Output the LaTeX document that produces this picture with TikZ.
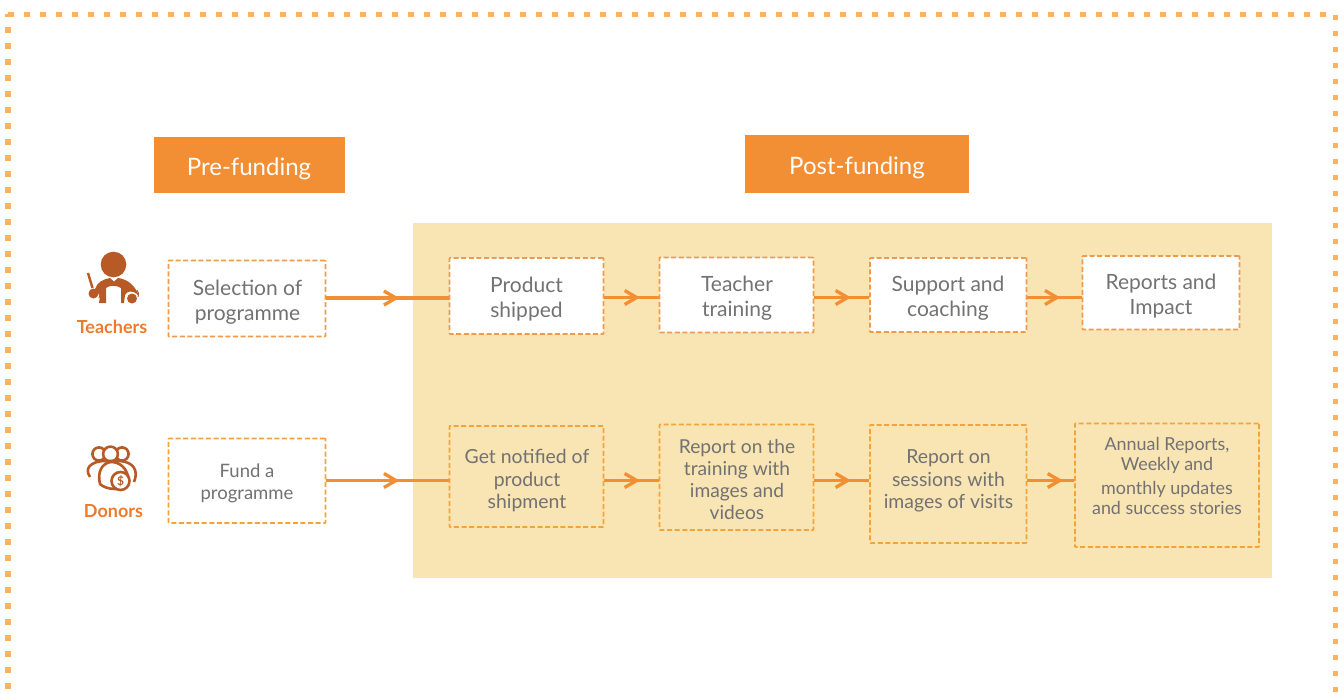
\documentclass[tikz,border=0pt]{standalone}
\usepackage{fontspec}
\setmainfont{Lato}
\usetikzlibrary{arrows.meta,decorations.markings}
\definecolor{orangeFill}{HTML}{F28E33}
\definecolor{panelFill}{HTML}{F9E4B3}
\definecolor{dashTop}{HTML}{F09A4E}
\definecolor{dashBot}{HTML}{F4A338}
\definecolor{dotCol}{HTML}{FBB264}
\definecolor{txt}{HTML}{727272}
\definecolor{iconCol}{HTML}{B85A26}
\definecolor{lblCol}{HTML}{EE7A2B}
\tikzset{
 x=1pt,y=-1pt,
 tbox/.style={draw=dashTop,fill=white,line width=1.6pt,dash pattern=on 5pt off 2.6pt,rounded corners=0.5pt,inner sep=0pt},
 bbox/.style={tbox,draw=dashBot,fill=none},
 wbox/.style={tbox,draw=dashBot},
 tx/.style={anchor=center,align=center,text=txt,inner sep=0pt},
 head/.style={fill=orangeFill,inner sep=0pt},
 headtx/.style={text=white,anchor=center,inner sep=0pt,font=\fontsize{24}{28}\selectfont},
 conn/.style={draw=orangeFill,line width=3.3pt,postaction={decorate}},
 barb/.style={decoration={markings,mark=at position #1 with {\draw[orangeFill,line width=3.3pt] (-12pt,-7pt) -- (0pt,0pt) -- (-12pt,7pt);}}},
 lbl/.style={text=lblCol,inner sep=0pt,font=\fontsize{18}{21}\bfseries\selectfont},
 dots/.style={draw=dotCol,line width=5.2pt},
 iconLine/.style={draw=iconCol,line width=2.6pt,fill=white},
}
\newcommand{\bx}[6]{\node[#1,minimum width=#4-#3,minimum height=#6-#5] (#2) at ({(#3+#4)/2},{(#5+#6)/2}) {};}
\newcommand{\fs}[2]{\fontsize{#1}{#2}\selectfont}
\begin{document}
\begin{tikzpicture}
\useasboundingbox (0,0) rectangle (1344,693);
% dotted frame
\draw[dots,dash pattern=on 5.2pt off 10.8pt] (8.4,14.5) -- (1326,14.5);
\draw[dots,dash pattern=on 5.2pt off 10.8pt,dash phase=2.6pt] (8,14) -- (8,693);
\draw[dots,dash pattern=on 5.2pt off 10.8pt] (1335.7,15.1) -- (1335.7,693);
% panel
\fill[panelFill] (413,223) rectangle (1272,578);
% headers
\bx{head}{pre}{153.5}{345}{137}{193}
\bx{head}{post}{745}{969}{135}{193}
\node[headtx] (pret) at (249,169) {Pre-funding};
\node[headtx] (postt) at (857,168) {Post-funding};
% top row
\bx{tbox}{a1}{168.5}{325.5}{260.5}{336.5}
\bx{tbox}{a2}{449.5}{603.5}{258}{334}
\bx{tbox}{a3}{659.5}{813.5}{257.5}{332.5}
\bx{tbox}{a4}{870}{1026.5}{258}{332}
\bx{tbox}{a5}{1082.5}{1239.5}{256}{329.5}
\node[tx,font=\fs{21}{25}] (a1t) at (247.5,302) {Selection of\\programme};
\node[tx,font=\fs{21}{25}] (a2t) at (526.5,299) {Product\\shipped};
\node[tx,font=\fs{21}{25}] (a3t) at (737,298) {Teacher\\training};
\node[tx,font=\fs{21}{25}] (a4t) at (948,298) {Support and\\coaching};
\node[tx,font=\fs{21}{24.5}] (a5t) at (1161,296) {Reports and\\Impact};
% bottom row
\bx{wbox}{b1}{168.5}{325.5}{438.5}{523}
\bx{bbox}{b2}{449.5}{603.5}{426}{527}
\bx{bbox}{b3}{659.5}{813.5}{424.5}{530}
\bx{bbox}{b4}{870}{1026.5}{425}{543}
\bx{bbox}{b5}{1075}{1259}{423.5}{547}
\node[tx,font=\fs{18.5}{22}] (b1t) at (247,483.5) {Fund a\\programme};
\node[tx,font=\fs{19.4}{22.5}] (b2t) at (527,481) {Get notified of\\product\\shipment};
\node[tx,font=\fs{19.2}{22.3}] (b3t) at (737,479.5) {Report on the\\training with\\images and\\videos};
\node[tx,font=\fs{19.4}{22.5}] (b4t) at (948.5,481) {Report on\\sessions with\\images of visits};
\node[tx,font=\fs{17.9}{22}] (b5t) at (1167,475.5) {Annual Reports,\\[-2pt]Weekly and\\[2pt]monthly updates\\[-2pt]and success stories};
% connectors
\draw[conn,barb=0.569] (a1.east |- 0,298) -- (a2.west |- 0,298);
\draw[conn,barb=0.595] (a2.east |- 0,297.5) -- (a3.west |- 0,297.5);
\draw[conn,barb=0.607] (a3.east |- 0,297.5) -- (a4.west |- 0,297.5);
\draw[conn,barb=0.545] (a4.east |- 0,297.5) -- (a5.west |- 0,297.5);
\draw[conn,barb=0.569] (b1.east |- 0,480.5) -- (b2.west |- 0,480.5);
\draw[conn,barb=0.595] (b2.east |- 0,480.5) -- (b3.west |- 0,480.5);
\draw[conn,barb=0.607] (b3.east |- 0,480.5) -- (b4.west |- 0,480.5);
\draw[conn,barb=0.69] (b4.east |- 0,480.5) -- (b5.west |- 0,480.5);
% teacher icon
\fill[iconCol] (113.5,264.5) circle (12.8);
\fill[iconCol] (95,289) .. controls (97,282) and (104,279) .. (110,278) -- (114,281.5) -- (118,278)
  .. controls (127,279) and (135,285) .. (139,296) -- (137,294) .. controls (132,290) and (127,291) .. (125,295)
  -- (124,303) -- (121,303) -- (121,288) .. controls (116,285) and (110,285) .. (106,288) -- (106,303) -- (99,303) -- (100,296) -- cycle;
\draw[white,line width=1.6pt] (119.5,288) -- (119.5,304);
\draw[iconCol,line width=2.4pt] (88,273) -- (92.5,288);
\fill[iconCol] (93.5,293.5) circle (5);
\fill[iconCol] (132,298.5) circle (5);
\draw[iconCol,line width=0.9pt] (98,287) .. controls (100,290) and (101,294) .. (99,298);
\draw[iconCol,line width=0.9pt] (137,290) .. controls (139,292) and (139,295) .. (138,297);
\node[lbl] (tl) at (112,326.5) {Teachers};
% donor icon
\draw[iconLine] (99,454) circle (6.6);
\draw[iconLine] (122,454) circle (6.6);
\draw[iconLine] (110.5,454) circle (7.4);
\draw[iconLine] (90,477) .. controls (84,468) and (91,462) .. (103,461) -- (120,461) .. controls (133,462) and (139,470) .. (134,482);
\draw[iconLine] (100,484) .. controls (97,472) and (102,463) .. (111,462) .. controls (120,462) and (126,468) .. (128,476) -- (115,489) .. controls (109,489) and (103,487) .. (100,484) -- cycle;
\draw[iconLine] (120.5,481) circle (9);
\node[text=iconCol,inner sep=0pt,font=\fontsize{12}{12}\bfseries\selectfont] (coin) at (120.5,481) {\$};
\node[lbl] (dl) at (113.5,511) {Donors};
\end{tikzpicture}
\end{document}
